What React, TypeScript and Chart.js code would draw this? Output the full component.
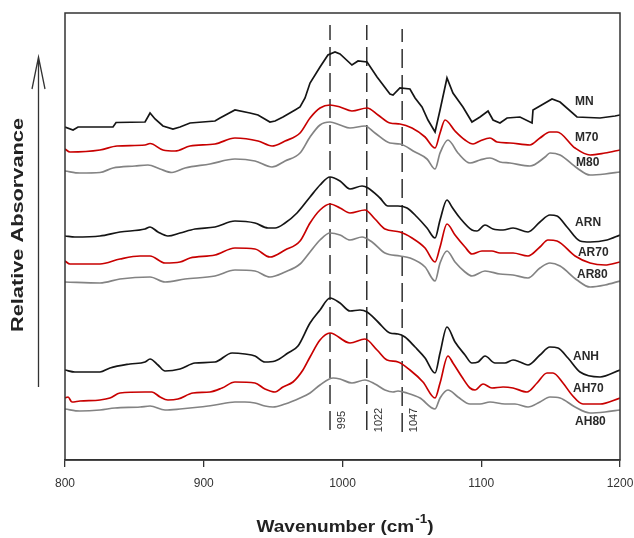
import React, { useEffect, useRef } from "react";
import { Chart, registerables } from "chart.js";

Chart.register(...registerables);

// ---------- data (wavenumber cm-1, relative absorbance, arbitrary offset units) ----------
const WN_TICKS = [800, 900, 1000, 1100, 1200];

const MN: [number, number][] = [
  [800, 333], [805.8, 330], [809.4, 333], [834.6, 333], [836.8, 337.5], [857.7, 338], [861.3, 347],
  [864.9, 341], [870.6, 334], [877.8, 331], [882.9, 333], [890.1, 337], [908.1, 339], [911.7, 342],
  [922.5, 350], [933.3, 347], [939.1, 345], [947.7, 338], [951.4, 339], [957.1, 343], [965.8, 350],
  [969.4, 353], [973.0, 362], [976.6, 377], [983.8, 393], [989.5, 405], [994.6, 408], [998.2, 406],
  [1006.8, 395], [1011.2, 399], [1017.7, 398], [1024.9, 383], [1034.2, 366], [1036.4, 365],
  [1041.4, 372], [1048.6, 371], [1052.3, 362], [1057.3, 353], [1061.6, 340], [1066.7, 328],
  [1070.3, 350], [1075.3, 382], [1079.6, 367], [1086.8, 353], [1093.3, 338], [1099.1, 343],
  [1104.9, 349], [1108.5, 340], [1113.5, 337], [1118.6, 342], [1127.9, 343], [1136.6, 337],
  [1137.3, 350], [1142.3, 354], [1151.0, 361], [1156.8, 358], [1169.0, 343], [1185.6, 342],
  [1196.4, 344], [1200, 345],
];

const M70: [number, number][] = [
  [800, 311], [803.6, 308], [825.2, 310], [837.5, 314], [857.7, 315], [861.3, 316.5], [870.6, 310],
  [879.3, 309], [890.1, 314], [908.1, 316], [922.5, 322], [939.1, 319], [949.2, 314], [958.6, 319],
  [969.4, 327], [976.6, 342], [983.8, 352], [991.0, 355], [998.2, 353], [1006.8, 349], [1017.7, 352],
  [1025.6, 345], [1034.2, 337], [1041.4, 336], [1050.1, 332], [1059.5, 323], [1066.7, 312],
  [1070.3, 327], [1073.9, 340], [1081.1, 329], [1088.3, 320], [1094.1, 316], [1099.1, 319],
  [1106.3, 322], [1111.4, 318], [1120.7, 317], [1135.1, 315], [1142.3, 322], [1149.5, 328],
  [1154.6, 328], [1167.6, 312], [1178.4, 305], [1189.2, 307], [1200, 310],
];

const M80: [number, number][] = [
  [800, 289], [810.8, 287], [825.2, 287.5], [834.6, 292], [850.5, 294], [859.8, 295], [868.5, 291],
  [877.1, 287.5], [886.5, 292], [904.5, 296], [922.5, 301], [936.9, 299], [949.2, 293], [958.6, 299],
  [969.4, 307], [976.6, 323], [983.8, 335], [991.0, 338], [998.2, 335], [1005.4, 332], [1016.2, 334],
  [1023.4, 327], [1034.2, 317], [1041.4, 316], [1052.3, 308], [1060.9, 301], [1066.7, 291],
  [1070.3, 307], [1076.0, 320], [1083.2, 307], [1091.9, 297], [1099.1, 300], [1106.3, 302],
  [1113.5, 298], [1120.7, 297], [1135.1, 294], [1146.0, 303], [1149.5, 307], [1156.8, 305],
  [1169.0, 292], [1178.4, 285], [1189.2, 286], [1200, 288],
];

const ARN: [number, number][] = [
  [800, 224], [807.2, 223], [825.2, 224], [839.6, 228], [857.7, 231], [861.3, 233], [867.0, 228],
  [874.2, 224], [882.9, 227], [893.7, 231], [908.1, 233], [922.5, 239], [936.9, 237], [946.3, 232],
  [951.4, 232], [958.6, 237], [967.2, 247], [976.6, 263], [983.8, 275], [991.0, 283], [998.2, 279],
  [1005.4, 271], [1014.1, 274], [1018.4, 272], [1027.0, 262], [1032.8, 254], [1040.0, 254],
  [1046.5, 252], [1053.7, 243], [1060.9, 232], [1066.7, 222], [1070.3, 240], [1075.3, 260],
  [1078.9, 253], [1084.7, 242], [1093.3, 230], [1096.9, 229], [1102.7, 235], [1108.5, 231],
  [1115.7, 230], [1122.9, 232], [1133.7, 228], [1142.3, 238], [1149.5, 245], [1154.6, 244],
  [1161.8, 233], [1171.2, 219], [1178.4, 218], [1190.6, 220], [1200, 225],
];

const AR70: [number, number][] = [
  [800, 199], [803.6, 196], [825.2, 196], [839.6, 201], [854.1, 204], [861.3, 204], [872.1, 197],
  [882.9, 198], [890.1, 202], [908.1, 205], [922.5, 212], [936.9, 211], [947.7, 203], [958.6, 210],
  [969.4, 219], [976.6, 237], [983.8, 250], [991.0, 256], [998.2, 252], [1005.4, 247], [1016.2, 250],
  [1023.4, 241], [1030.6, 231], [1041.4, 228], [1050.1, 222], [1059.5, 212], [1066.7, 198],
  [1070.3, 213], [1075.3, 236], [1081.1, 225], [1088.3, 213], [1093.3, 206], [1100.5, 209],
  [1107.7, 209], [1113.5, 207], [1122.9, 207], [1133.7, 204], [1142.3, 213], [1148.1, 220],
  [1154.6, 219], [1167.6, 204], [1178.4, 197], [1189.2, 195], [1200, 198],
];

const AR80: [number, number][] = [
  [800, 178], [825.2, 177], [839.6, 181], [861.3, 183], [872.1, 178], [886.5, 181], [908.1, 184],
  [922.5, 190], [936.9, 189], [947.7, 183], [958.6, 188], [969.4, 196], [976.6, 208], [983.8, 220],
  [991.0, 227], [998.2, 225], [1005.4, 220], [1014.1, 223], [1021.3, 218], [1030.6, 207],
  [1041.4, 204], [1048.6, 202], [1059.5, 193], [1066.7, 179], [1070.3, 197], [1075.3, 209],
  [1081.1, 198], [1088.3, 188], [1093.3, 184], [1102.7, 189], [1113.5, 186], [1122.9, 185],
  [1133.7, 182], [1142.3, 192], [1149.5, 197], [1156.8, 194], [1169.0, 180], [1178.4, 173],
  [1189.2, 175], [1200, 179],
];

const ANH: [number, number][] = [
  [800, 90], [807.2, 88], [825.2, 88], [832.4, 92], [846.8, 96], [857.7, 98], [861.3, 101],
  [867.0, 95], [872.1, 89], [882.9, 91], [893.7, 97], [908.1, 98], [920.4, 107], [929.7, 106],
  [936.9, 104], [944.1, 98], [951.4, 99], [960.7, 107], [967.9, 114], [976.6, 137], [983.8, 150],
  [991.0, 162], [998.2, 157], [1005.4, 149], [1012.6, 150], [1017.7, 148], [1025.6, 138],
  [1034.2, 127], [1040.0, 126], [1045.0, 123], [1052.3, 113], [1059.5, 102], [1066.7, 87],
  [1070.3, 107], [1075.3, 133], [1081.1, 118], [1088.3, 105], [1093.3, 97], [1097.7, 98],
  [1102.7, 104], [1109.9, 97], [1117.1, 97], [1122.9, 100], [1127.9, 98], [1133.7, 95],
  [1142.3, 105], [1149.5, 113], [1155.3, 112], [1162.5, 102], [1171.2, 88], [1185.6, 83], [1200, 90],
];

const AH70: [number, number][] = [
  [800, 62], [802.2, 63], [805.0, 58], [810.8, 59], [825.2, 60], [832.4, 62], [839.6, 67],
  [857.7, 68], [862.7, 68], [868.5, 63], [874.2, 60], [881.4, 61], [892.3, 67], [904.5, 68],
  [913.2, 72], [922.5, 78], [936.9, 77], [944.1, 71], [951.4, 68], [957.1, 73], [964.3, 78],
  [971.5, 90], [976.6, 103], [983.8, 120], [991.0, 127], [1005.4, 117], [1016.2, 121], [1024.9, 110],
  [1032.1, 100], [1040.0, 98], [1048.6, 90], [1058.0, 78], [1066.7, 62], [1070.3, 77], [1076.0, 104],
  [1079.6, 97], [1086.1, 83], [1091.9, 72], [1095.5, 70], [1101.3, 76], [1107.7, 72], [1115.7, 73],
  [1122.9, 72], [1133.0, 68], [1140.2, 77], [1147.4, 87], [1151.7, 87], [1158.9, 77], [1165.4, 65],
  [1173.3, 56], [1185.6, 56], [1200, 62],
];

const AH80: [number, number][] = [
  [800, 51], [810.8, 49], [825.2, 50], [836.0, 52], [854.1, 53], [861.3, 54], [872.1, 50],
  [882.9, 51], [897.3, 53], [908.1, 55], [922.5, 58], [929.7, 58], [936.9, 57], [944.1, 54],
  [949.9, 53], [958.6, 56], [969.4, 62], [976.6, 67], [983.8, 75], [993.2, 82], [998.2, 81],
  [1006.8, 77], [1016.2, 80], [1023.4, 76], [1030.6, 70], [1036.4, 68], [1040.0, 69], [1046.5, 67],
  [1055.9, 62], [1066.7, 51], [1070.3, 62], [1076.0, 70], [1083.2, 63], [1091.9, 56], [1099.1, 56],
  [1106.3, 58], [1117.1, 56], [1124.3, 56], [1133.7, 53], [1142.3, 58], [1149.5, 63], [1156.8, 62],
  [1167.6, 53], [1178.4, 47], [1189.2, 48], [1200, 50],
];

// marker band positions and their labels
const BAND_WN = [991, 1017.5, 1043];
const BAND_LABELS = ["995", "1022", "1047"];
const BAND_TOP = [435, 435, 431];
const BAND_BOTTOM = [30, 30, 28];

const SERIES_NAMES = ["MN", "M70", "M80", "ARN", "AR70", "AR80", "ANH", "AH70", "AH80"];
const SERIES_DATA = [MN, M70, M80, ARN, AR70, AR80, ANH, AH70, AH80];

// ---------- styling ----------
const BLACK = "#151515";
const RED = "#c80000";
const GRAY = "#838383";
const SERIES_COLORS = [BLACK, RED, GRAY, BLACK, RED, GRAY, BLACK, RED, GRAY];
// label anchor (left edge, vertical centre) in data units
const LABEL_AT: [number, number][] = [
  [1167.6, 358], [1167.6, 322], [1168.3, 297],
  [1167.6, 237], [1169.7, 207], [1169.0, 185],
  [1166.1, 103], [1166.1, 71], [1167.6, 38],
];
const FONT = "'Liberation Sans', Arial, sans-serif";

const decorPlugin = {
  id: "decor",
  afterDatasetsDraw(chart: any) {
    const { ctx, chartArea, scales } = chart;
    const xs = scales.x;
    const ys = scales.y;
    ctx.save();
    // series labels
    ctx.fillStyle = "#2a2a2a";
    ctx.font = `bold 12px ${FONT}`;
    ctx.textAlign = "left";
    ctx.textBaseline = "middle";
    SERIES_NAMES.forEach((n, i) => {
      const [wx, wy] = LABEL_AT[i];
      ctx.fillText(n, xs.getPixelForValue(wx), ys.getPixelForValue(wy));
    });
    // band labels (rotated)
    ctx.font = `11px ${FONT}`;
    ctx.fillStyle = "#333";
    BAND_LABELS.forEach((t, i) => {
      const px = xs.getPixelForValue(BAND_WN[i]) + 12;
      ctx.save();
      ctx.translate(px, 420);
      ctx.rotate(-Math.PI / 2);
      ctx.textAlign = "center";
      ctx.textBaseline = "middle";
      ctx.fillText(t, 0, 0);
      ctx.restore();
    });
    // frame
    ctx.strokeStyle = "#333";
    ctx.lineWidth = 1.5;
    ctx.strokeRect(chartArea.left, chartArea.top, chartArea.right - chartArea.left, chartArea.bottom - chartArea.top);
    ctx.restore();
  },
  afterDraw(chart: any) {
    const { ctx } = chart;
    ctx.save();
    ctx.fillStyle = "#222";
    // y title, stretched
    ctx.font = `bold 16px ${FONT}`;
    const yt = "Relative Absorvance";
    const yw = ctx.measureText(yt).width;
    ctx.translate(19, 225);
    ctx.rotate(-Math.PI / 2);
    ctx.scale(214 / yw, 1);
    ctx.textAlign = "center";
    ctx.textBaseline = "middle";
    ctx.fillText(yt, 0, 0);
    ctx.restore();

    // arrow
    ctx.save();
    ctx.strokeStyle = "#333";
    ctx.lineWidth = 1.3;
    ctx.beginPath();
    ctx.moveTo(38.5, 387);
    ctx.lineTo(38.5, 57);
    ctx.moveTo(32, 89);
    ctx.lineTo(38.5, 57);
    ctx.lineTo(45, 89);
    ctx.stroke();
    ctx.restore();

    // x title with superscript
    ctx.save();
    ctx.fillStyle = "#222";
    const p1 = "Wavenumber (cm";
    const p2 = "-1";
    const p3 = ")";
    ctx.font = `bold 17px ${FONT}`;
    const w1 = ctx.measureText(p1).width;
    const w3 = ctx.measureText(p3).width;
    ctx.font = `bold 12px ${FONT}`;
    const w2 = ctx.measureText(p2).width;
    const total = w1 + w2 + w3;
    const target = 176;
    const sx = target / total;
    const cx = (chart.chartArea.left + chart.chartArea.right) / 2 + 2;
    ctx.translate(cx - target / 2, 532);
    ctx.scale(sx, 1);
    ctx.textBaseline = "alphabetic";
    ctx.textAlign = "left";
    ctx.font = `bold 17px ${FONT}`;
    ctx.fillText(p1, 0, 0);
    ctx.font = `bold 12px ${FONT}`;
    ctx.fillText(p2, w1 + 1, -9);
    ctx.font = `bold 17px ${FONT}`;
    ctx.fillText(p3, w1 + w2 + 1, 0);
    ctx.restore();
  },
};

export default function App() {
  const ref = useRef<HTMLCanvasElement | null>(null);
  useEffect(() => {
    if (!ref.current) return;
    const datasets: any[] = SERIES_DATA.map((d, i) => ({
      label: SERIES_NAMES[i],
      data: d.map(([x, y]) => ({ x, y })),
      borderColor: SERIES_COLORS[i],
      borderWidth: 1.7,
      pointRadius: 0,
      fill: false,
      tension: i === 0 ? 0 : 0.35,
      cubicInterpolationMode: i === 0 ? "default" : "monotone",
    }));
    BAND_WN.forEach((wn, i) => {
      datasets.push({
        label: "band " + BAND_LABELS[i],
        data: [
          { x: wn, y: BAND_BOTTOM[i] },
          { x: wn, y: BAND_TOP[i] },
        ],
        borderColor: "#222",
        borderWidth: 1.4,
        borderDash: [19, 7],
        pointRadius: 0,
        fill: false,
      });
    });
    const chart = new Chart(ref.current, {
      type: "line",
      data: { datasets },
      plugins: [decorPlugin],
      options: {
        animation: false,
        responsive: false,
        maintainAspectRatio: false,
        layout: { padding: { left: 65, right: 14, top: 13, bottom: 0 } },
        plugins: { legend: { display: false }, tooltip: { enabled: false } },
        scales: {
          x: {
            type: "linear",
            min: 800,
            max: 1200,
            afterBuildTicks: (s: any) => {
              s.ticks = WN_TICKS.map((v) => ({ value: v }));
            },
            afterFit: (s: any) => {
              s.height = 78;
              s.paddingLeft = 0;
              s.paddingRight = 0;
            },
            ticks: {
              color: "#333",
              font: { family: FONT, size: 12 },
              padding: 9,
              maxRotation: 0,
              callback: (v: any) => String(v),
            },
            grid: {
              drawOnChartArea: false,
              drawTicks: true,
              tickLength: 7,
              color: "#333",
              lineWidth: 1.3,
            },
            border: { color: "#333", width: 1.5 },
          },
          y: {
            type: "linear",
            min: 0,
            max: 447,
            display: false,
          },
        },
      },
    });
    return () => chart.destroy();
  }, []);
  return (
    <div style={{ position: "absolute", left: 0, top: 0, width: 634, height: 538, background: "#fff" }}>
      <canvas ref={ref} width={634} height={538} style={{ width: 634, height: 538, display: "block" }} />
    </div>
  );
}
